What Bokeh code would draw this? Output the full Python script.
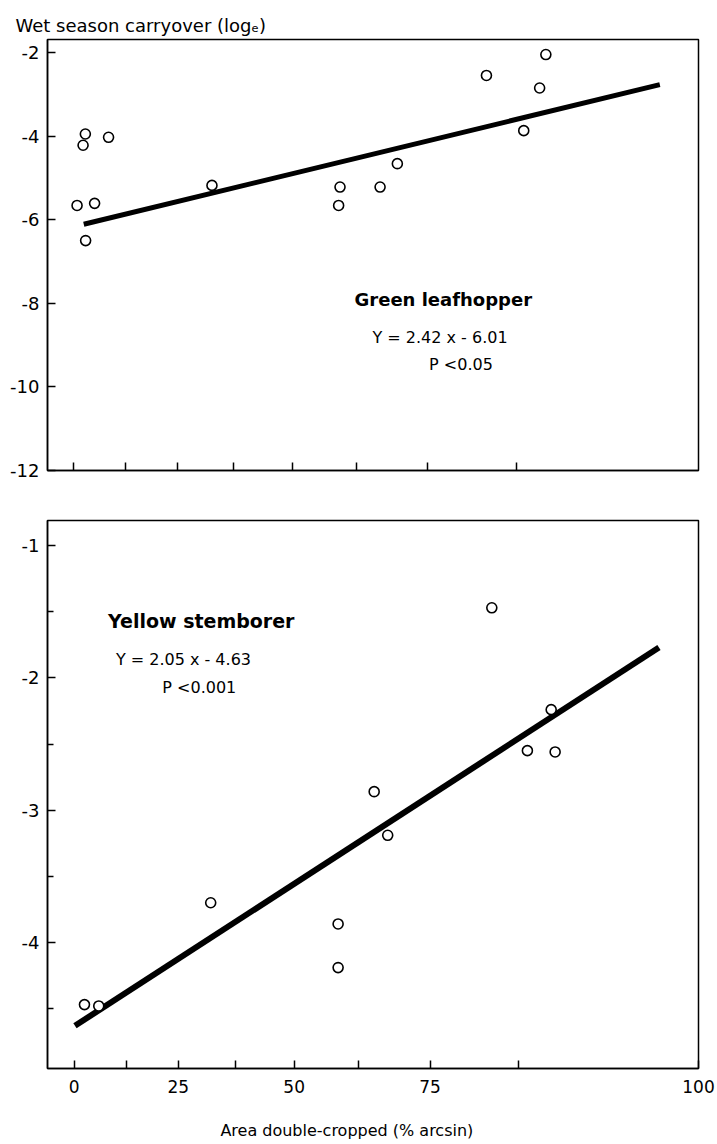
from bokeh.plotting import figure
from bokeh.models import Range1d, FixedTicker, Label
from bokeh.layouts import column
from bokeh.embed import file_html
from bokeh.resources import INLINE

# ---------------- data ----------------
# x axis: area double-cropped, arcsin-transformed scale; tick labels are in %
X_TICK_POS = [0, 7.5, 15.0, 23.2, 31.7, 41.0, 51.3, 64.1, 90.0]
X_TICK_LABELS = ["0", "", "25", "", "50", "", "75", "", "100"]

# Green leafhopper
GL_X = [1.73, 1.40, 5.09, 0.53, 3.07, 1.77, 20.06, 38.6, 38.4, 44.4, 46.9, 59.8, 68.4, 67.5, 65.2]
GL_Y = [-3.95, -4.22, -4.03, -5.66, -5.61, -6.50, -5.18, -5.22, -5.66, -5.22, -4.66, -2.55, -2.05, -2.85, -3.87]
GL_FIT_X = [1.5, 84.9]
GL_FIT_Y = [-6.11, -2.77]
GL_Y_TICKS = [-2, -4, -6, -8, -10, -12]
GL_Y_LABELS = ["-2", "-4", "-6", "-8", "-10", "-12"]

# Yellow stemborer
YS_X = [60.2, 68.76, 65.33, 69.33, 43.24, 45.19, 19.67, 38.04, 38.04, 1.47, 3.53]
YS_Y = [-1.47, -2.24, -2.55, -2.56, -2.86, -3.19, -3.70, -3.86, -4.19, -4.47, -4.48]
YS_FIT_X = [0.1, 84.3]
YS_FIT_Y = [-4.63, -1.77]
YS_Y_TICKS = [-1, -2, -3, -4]
YS_Y_MINOR = [-1.5, -2.5, -3.5, -4.5]
YS_Y_LABELS = ["-1", "-2", "-3", "-4"]

FONT = "DejaVu Sans"


def style_panel(p, xticks, yticks, ylabels, yminor, show_xlabels):
    p.outline_line_color = "black"
    p.outline_line_width = 1.5
    p.grid.visible = False
    p.background_fill_color = "white"
    p.border_fill_color = "white"

    xa = p.xaxis[0]
    xa.ticker = FixedTicker(ticks=xticks, minor_ticks=[])
    if show_xlabels:
        xa.major_label_overrides = {t: l for t, l in zip(X_TICK_POS, X_TICK_LABELS)}
        xa.major_label_text_font_size = "17px"
    else:
        xa.major_label_overrides = {t: "" for t in xticks}
        xa.major_label_text_font_size = "1px"
    xa.major_label_text_font = FONT
    xa.major_label_text_color = "black"
    xa.major_label_standoff = 11
    xa.axis_line_color = "black"
    xa.axis_line_width = 1.5
    xa.major_tick_line_color = "black"
    xa.major_tick_line_width = 1.5
    xa.major_tick_in = 8
    xa.major_tick_out = 0
    xa.minor_tick_line_color = None

    ya = p.yaxis[0]
    ya.ticker = FixedTicker(ticks=yticks, minor_ticks=yminor)
    ya.major_label_overrides = {t: l for t, l in zip(yticks, ylabels)}
    ya.major_label_text_font = FONT
    ya.major_label_text_font_size = "18px"
    ya.major_label_text_color = "black"
    ya.major_label_standoff = 8
    ya.axis_line_color = "black"
    ya.axis_line_width = 1.5
    ya.major_tick_line_color = "black"
    ya.major_tick_line_width = 1.5
    ya.major_tick_in = 8
    ya.major_tick_out = 0
    ya.minor_tick_line_color = "black"
    ya.minor_tick_line_width = 1.5
    ya.minor_tick_in = 6
    ya.minor_tick_out = 0


# ---------------- top panel: Green leafhopper ----------------
p1 = figure(width=717, height=490, output_backend="svg", toolbar_location=None,
            x_range=Range1d(-3.75, 90.5), y_range=Range1d(-12.0, -1.69),
            min_border_left=47, min_border_right=17, min_border_top=39,
            min_border_bottom=20)
style_panel(p1, X_TICK_POS[:-1], GL_Y_TICKS, GL_Y_LABELS, [], False)
p1.title.text = "Wet season carryover (logₑ)"
p1.title.align = "left"
p1.title.offset = -32
p1.title.text_font = FONT
p1.title.text_font_size = "18px"
p1.title.text_font_style = "normal"
p1.title.text_color = "black"
p1.title.standoff = 7

p1.line(GL_FIT_X, GL_FIT_Y, line_color="black", line_width=5)
p1.scatter(GL_X, GL_Y, marker="circle", size=10, fill_color="white",
           line_color="black", line_width=1.6)

p1.add_layout(Label(x=40.7, y=-7.91, text="Green leafhopper", text_font=FONT,
                    text_font_size="18px", text_font_style="bold",
                    text_color="black", text_baseline="alphabetic"))
p1.add_layout(Label(x=43.3, y=-8.82, text="Y = 2.42 x - 6.01", text_font=FONT,
                    text_font_size="16px", text_color="black",
                    text_baseline="alphabetic"))
p1.add_layout(Label(x=51.5, y=-9.46, text="P <0.05", text_font=FONT,
                    text_font_size="16px", text_color="black",
                    text_baseline="alphabetic"))

# ---------------- bottom panel: Yellow stemborer ----------------
p2 = figure(width=717, height=624, output_backend="svg", toolbar_location=None,
            x_range=Range1d(-3.86, 90.0), y_range=Range1d(-4.953, -0.81),
            min_border_left=41, min_border_right=19, min_border_top=30,
            min_border_bottom=46)
style_panel(p2, X_TICK_POS, YS_Y_TICKS, YS_Y_LABELS, YS_Y_MINOR, True)
p2.line(YS_FIT_X, YS_FIT_Y, line_color="black", line_width=6)
p2.scatter(YS_X, YS_Y, marker="circle", size=10, fill_color="white",
           line_color="black", line_width=1.6)

p2.add_layout(Label(x=4.86, y=-1.567, text="Yellow stemborer", text_font=FONT,
                    text_font_size="19px", text_font_style="bold",
                    text_color="black", text_baseline="alphabetic"))
p2.add_layout(Label(x=6.0, y=-1.862, text="Y = 2.05 x - 4.63", text_font=FONT,
                    text_font_size="16px", text_color="black",
                    text_baseline="alphabetic"))
p2.add_layout(Label(x=12.7, y=-2.073, text="P <0.001", text_font=FONT,
                    text_font_size="16px", text_color="black",
                    text_baseline="alphabetic"))

# ---------------- shared x-axis title strip ----------------
p3 = figure(width=717, height=30, output_backend="svg", toolbar_location=None,
            x_range=Range1d(-3.86, 90.0), y_range=Range1d(0, 1),
            min_border_left=41, min_border_right=19, min_border_top=0,
            min_border_bottom=0)
p3.axis.visible = False
p3.grid.visible = False
p3.outline_line_color = None
p3.add_layout(Label(x=39.3, y=0.47, text="Area double-cropped (% arcsin)",
                    text_font=FONT, text_font_size="16px", text_color="black",
                    text_baseline="middle", text_align="center"))

layout = column(p1, p2, p3, spacing=0)
open("out.html", "w").write(file_html(layout, INLINE))
